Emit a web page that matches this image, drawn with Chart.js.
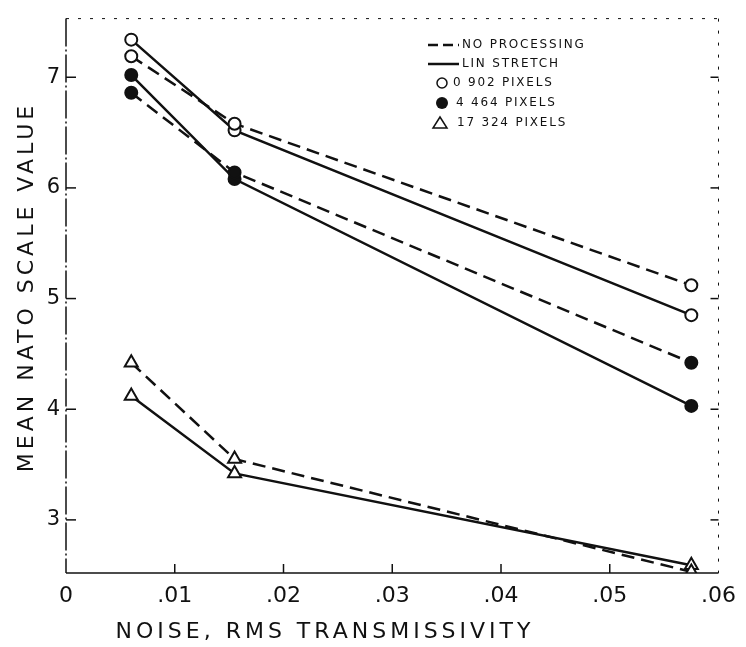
<!DOCTYPE html>
<html>
<head>
<meta charset="utf-8">
<script src="https://cdn.jsdelivr.net/npm/chart.js@4.4.0/dist/chart.umd.min.js"></script>
<style>
  html, body { margin: 0; padding: 0; background: #fff; }
  #wrap { width: 746px; height: 647px; }
</style>
</head>
<body>
<div id="wrap"><canvas id="c" width="746" height="647"></canvas></div>
<script>
// noise level (rms transmissivity) for each measurement
const noise = [0.006, 0.0155, 0.0575];

// mean NATO scale values
const openNoProc = [7.19, 6.58, 5.12];   // 0.902 pixels, no processing
const openLin = [7.34, 6.52, 4.85];      // 0.902 pixels, lin stretch
const filledNoProc = [6.86, 6.14, 4.42]; // 4.464 pixels, no processing
const filledLin = [7.02, 6.08, 4.03];    // 4.464 pixels, lin stretch
const triNoProc = [4.42, 3.55, 2.53];    // 17.324 pixels, no processing
const triLin = [4.12, 3.42, 2.59];       // 17.324 pixels, lin stretch

const xTicks = [0, 0.01, 0.02, 0.03, 0.04, 0.05, 0.06];
const xTickLabels = ['0', '.01', '.02', '.03', '.04', '.05', '.06'];
const yTicks = [3, 4, 5, 6, 7];
const legendLabels = ['NO PROCESSING', 'LIN STRETCH', '0 902 PIXELS', '4 464 PIXELS', '17 324 PIXELS'];

const INK = '#111';
const FONT = '"DejaVu Sans", sans-serif';
const DASH = [13, 7];

function pts(ys) {
  return noise.map((x, i) => ({ x: x, y: ys[i] }));
}

function series(ys, style, filled, dashed) {
  return {
    data: pts(ys),
    showLine: true,
    borderColor: INK,
    borderWidth: 2.5,
    borderDash: dashed ? DASH : [],
    pointStyle: style,
    pointRadius: style === 'triangle' ? 7.5 : 6,
    pointBorderWidth: 2,
    pointBorderColor: INK,
    pointBackgroundColor: filled ? INK : '#fff'
  };
}

// frame, inward tick marks, axis titles and the legend
const decor = {
  id: 'decor',
  afterDraw(chart) {
    const ctx = chart.ctx;
    const a = chart.chartArea;
    const xs = chart.scales.x, ys = chart.scales.y;
    ctx.save();
    ctx.strokeStyle = INK;
    ctx.fillStyle = INK;

    // frame
    ctx.lineWidth = 1.5;
    ctx.setLineDash([28, 3, 2, 3]);
    ctx.beginPath(); ctx.moveTo(a.left, a.top); ctx.lineTo(a.left, a.bottom); ctx.stroke();
    ctx.setLineDash([]);
    ctx.beginPath(); ctx.moveTo(a.left, a.bottom); ctx.lineTo(a.right, a.bottom); ctx.stroke();
    ctx.lineWidth = 1;
    ctx.setLineDash([3, 9]);
    ctx.beginPath(); ctx.moveTo(a.left, a.top); ctx.lineTo(a.right, a.top); ctx.stroke();
    ctx.beginPath(); ctx.moveTo(a.right, a.top); ctx.lineTo(a.right, a.bottom); ctx.stroke();
    ctx.setLineDash([]);

    // inward ticks
    ctx.lineWidth = 1.5;
    yTicks.forEach(v => {
      const y = ys.getPixelForValue(v);
      ctx.beginPath(); ctx.moveTo(a.left, y); ctx.lineTo(a.left + 10, y); ctx.stroke();
      ctx.beginPath(); ctx.moveTo(a.right, y); ctx.lineTo(a.right - 8, y); ctx.stroke();
    });
    xTicks.slice(1, -1).forEach(v => {
      const x = xs.getPixelForValue(v);
      ctx.beginPath(); ctx.moveTo(x, a.bottom); ctx.lineTo(x, a.bottom - 9); ctx.stroke();
    });

    // axis titles
    ctx.font = '22px ' + FONT;
    ctx.letterSpacing = '4px';
    ctx.textAlign = 'center';
    ctx.textBaseline = 'middle';
    ctx.fillText('NOISE, RMS TRANSMISSIVITY', 325, 632);
    ctx.save();
    ctx.translate(27, 287);
    ctx.rotate(-Math.PI / 2);
    ctx.fillText('MEAN NATO SCALE VALUE', 0, 0);
    ctx.restore();

    // legend
    ctx.font = '12px ' + FONT;
    ctx.letterSpacing = '1.8px';
    ctx.textAlign = 'left';
    const rows = [45, 64, 83, 103, 123];
    ctx.lineWidth = 2.5;
    ctx.setLineDash([10, 5]);
    ctx.beginPath(); ctx.moveTo(428, rows[0]); ctx.lineTo(459, rows[0]); ctx.stroke();
    ctx.setLineDash([]);
    ctx.beginPath(); ctx.moveTo(428, rows[1]); ctx.lineTo(459, rows[1]); ctx.stroke();
    ctx.fillText(legendLabels[0], 462, rows[0]);
    ctx.fillText(legendLabels[1], 462, rows[1]);

    ctx.lineWidth = 1.5;
    ctx.beginPath(); ctx.arc(442, rows[2], 5, 0, Math.PI * 2); ctx.stroke();
    ctx.beginPath(); ctx.arc(442, rows[3], 6, 0, Math.PI * 2); ctx.fill();
    ctx.beginPath();
    ctx.moveTo(440, rows[4] - 6); ctx.lineTo(447, rows[4] + 5); ctx.lineTo(433, rows[4] + 5);
    ctx.closePath(); ctx.stroke();
    ctx.fillText(legendLabels[2], 453, rows[2]);
    ctx.fillText(legendLabels[3], 456, rows[3]);
    ctx.fillText(legendLabels[4], 457, rows[4]);
    ctx.restore();
  }
};

new Chart(document.getElementById('c'), {
  type: 'scatter',
  data: {
    datasets: [
      series(openNoProc, 'circle', false, true),
      series(openLin, 'circle', false, false),
      series(filledNoProc, 'circle', true, true),
      series(filledLin, 'circle', true, false),
      series(triNoProc, 'triangle', false, true),
      series(triLin, 'triangle', false, false)
    ]
  },
  options: {
    responsive: false,
    animation: false,
    devicePixelRatio: 1,
    layout: { padding: { top: 10, right: 17, left: 0, bottom: 0 } },
    plugins: { legend: { display: false }, tooltip: { enabled: false } },
    scales: {
      x: {
        type: 'linear',
        min: 0,
        max: 0.06,
        afterBuildTicks: s => { s.ticks = xTicks.map(v => ({ value: v })); },
        afterFit: s => { s.height = 74; },
        grid: { display: false, drawTicks: false },
        border: { display: false },
        ticks: {
          autoSkip: false,
          maxRotation: 0,
          padding: 10,
          color: INK,
          font: { family: FONT, size: 22 },
          callback: (v, i) => xTickLabels[i]
        }
      },
      y: {
        type: 'linear',
        min: 2.52,
        max: 7.53,
        afterBuildTicks: s => { s.ticks = yTicks.map(v => ({ value: v })); },
        afterFit: s => { s.width = 66; },
        grid: { display: false, drawTicks: false },
        border: { display: false },
        ticks: {
          padding: 6,
          color: INK,
          font: { family: FONT, size: 21 },
          callback: v => String(v)
        }
      }
    }
  },
  plugins: [decor]
});
</script>
</body>
</html>
